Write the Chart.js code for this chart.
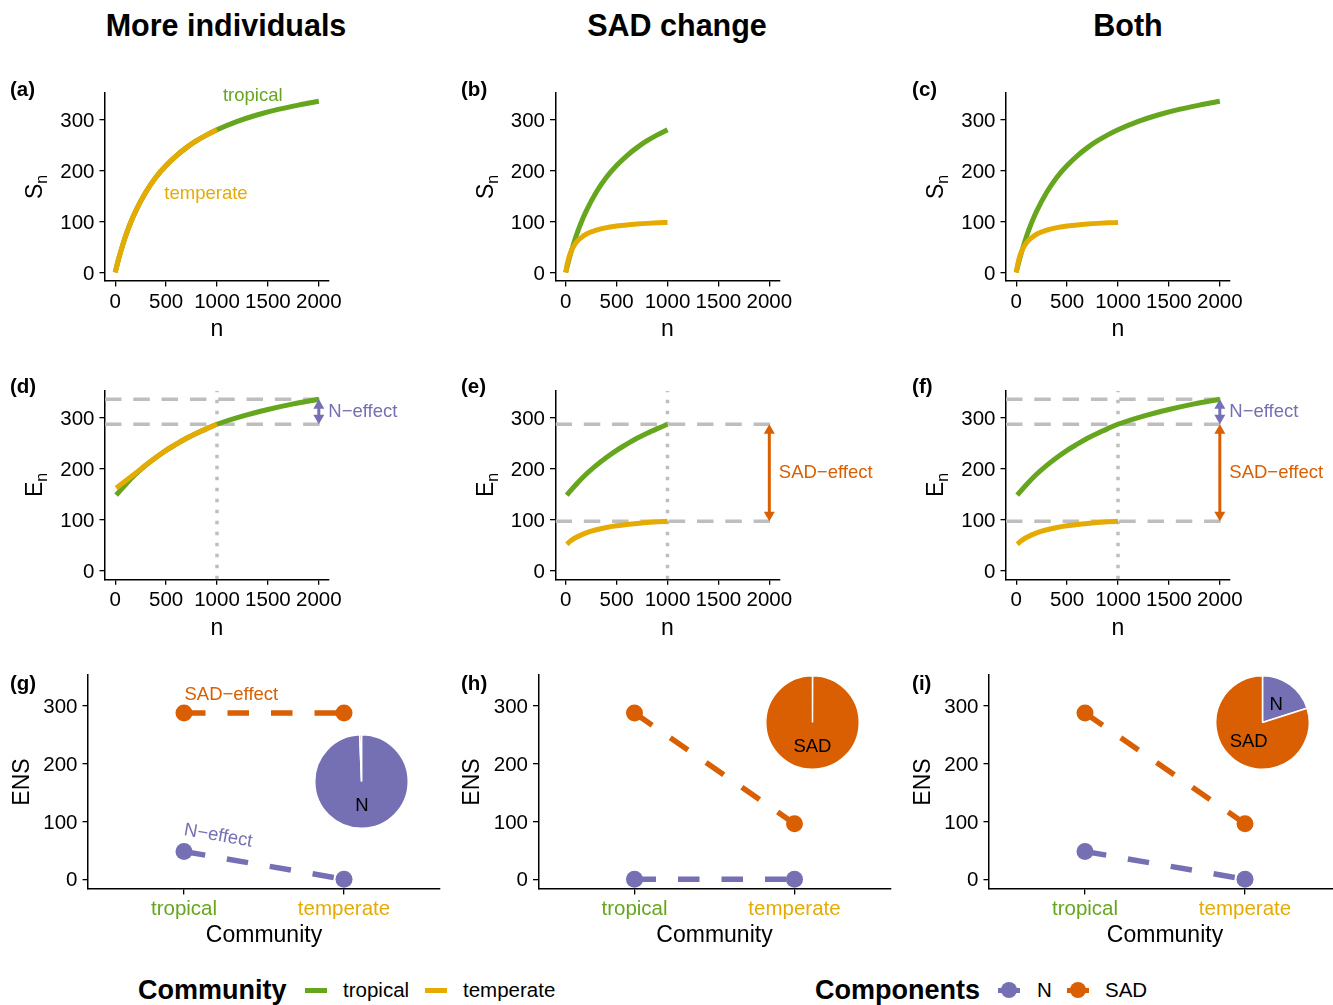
<!DOCTYPE html>
<html><head><meta charset="utf-8">
<script src="https://cdn.jsdelivr.net/npm/chart.js@4.4.1/dist/chart.umd.min.js"></script>
<style>
html,body{margin:0;padding:0;background:#fff;overflow:hidden;width:1333px;height:1005px;position:relative;}
canvas{position:absolute;}
.t{position:absolute;font-family:"Liberation Sans",Arial,Helvetica,sans-serif;color:#000;white-space:nowrap;}
.key{position:absolute;}
</style></head><body>
<div class="t" style="left:0;width:452px;top:5px;height:40px;line-height:40px;text-align:center;font-weight:bold;font-size:30.5px;">More individuals</div>
<div class="t" style="left:451px;width:452px;top:5px;height:40px;line-height:40px;text-align:center;font-weight:bold;font-size:30.5px;">SAD change</div>
<div class="t" style="left:902px;width:452px;top:5px;height:40px;line-height:40px;text-align:center;font-weight:bold;font-size:30.5px;">Both</div>

<div class="t" style="left:138px;top:970px;height:40px;line-height:40px;font-weight:bold;font-size:27px;">Community</div>
<div class="key" style="left:305px;top:987.5px;width:22px;height:5px;background:#66a61e"></div>
<div class="t" style="left:343px;top:970px;height:40px;line-height:40px;font-size:20.5px;">tropical</div>
<div class="key" style="left:425px;top:987.5px;width:22px;height:5px;background:#e6ab02"></div>
<div class="t" style="left:463px;top:970px;height:40px;line-height:40px;font-size:20.5px;">temperate</div>

<div class="t" style="left:815px;top:970px;height:40px;line-height:40px;font-weight:bold;font-size:27px;">Components</div>
<div class="key" style="left:998px;top:987.5px;width:22px;height:5px;background:#7570b3"></div>
<div class="key" style="left:1001px;top:982px;width:16px;height:16px;border-radius:50%;background:#7570b3"></div>
<div class="t" style="left:1037px;top:970px;height:40px;line-height:40px;font-size:20.5px;">N</div>
<div class="key" style="left:1067px;top:987.5px;width:22px;height:5px;background:#d95f02"></div>
<div class="key" style="left:1070px;top:982px;width:16px;height:16px;border-radius:50%;background:#d95f02"></div>
<div class="t" style="left:1105px;top:970px;height:40px;line-height:40px;font-size:20.5px;">SAD</div>

<script>
// ---------------- data ----------------
const nTicks = [0, 500, 1000, 1500, 2000];
const nTickLabels = ['0', '500', '1000', '1500', '2000'];
const yTicks = [0, 100, 200, 300];
const yTickLabels = ['0', '100', '200', '300'];
const communities = ['tropical', 'temperate'];
const components = ['N', 'SAD'];

// rarefaction S_n, tropical community
const nS_trop = [0, 25, 50, 100, 150, 200, 300, 400, 500, 600, 700, 800, 900, 1000, 1200, 1400, 1600, 1800, 2000];
const S_trop  = [0, 20, 38, 70, 97, 120, 157.5, 187, 210, 229, 245, 258.5, 270, 280, 296.5, 309.5, 320, 328.5, 336];
// rarefaction S_n, temperate community with changed SAD
const nS_temp = [0, 25, 50, 100, 150, 200, 300, 400, 500, 600, 700, 800, 900, 1000];
const S_temp  = [0, 24.5, 40, 58, 68, 75, 83, 88, 91, 93.3, 95, 96.3, 97.3, 98];

// E_n curves
const nE_trop = [10, 100, 200, 300, 400, 500, 600, 700, 800, 900, 1000, 1250, 1500, 1750, 2000];
const E_trop  = [148, 168.5, 189, 206.5, 222, 236, 248, 259.5, 269.5, 278.5, 287, 303, 316, 327, 336];
const nE_tempN = [10, 100, 200, 300, 400, 500, 600, 700, 800, 900, 1000];
const E_tempN  = [162, 176, 191, 207, 222, 236, 248, 259.5, 269.5, 278.5, 287];
const nE_tempSAD = [10, 50, 100, 200, 300, 400, 500, 600, 700, 800, 900, 1000];
const E_tempSAD  = [52, 58.6, 65, 74.2, 80.3, 84.7, 88, 90.6, 92.7, 94.4, 95.8, 97];

// reference levels
const E_trop_2000 = 336, E_trop_1000 = 287, E_tempSAD_1000 = 97;

// ENS of the components (tropical, temperate)
const ensN_g   = [48, 0],  ensSAD_g = [287, 287];
const ensN_h   = [0, 0],   ensSAD_h = [287, 96];
const ensN_i   = [48, 0],  ensSAD_i = [287, 96];
// pie shares [N, SAD]
const pie_g = [48, 0.3];
const pie_h = [0.1, 191];
const pie_i = [48, 191];

// ---------------- styling / layout ----------------
const FONT = '"Liberation Sans", Arial, Helvetica, sans-serif';
const GREEN = '#66a61e', YELLOW = '#e6ab02', PURPLE = '#7570b3', ORANGE = '#d95f02', GREY = '#bebebe';
const CW = 1360, CH = 1005;
const colOff = [0, 450.5, 901];
const rows = [
  {L: 105, R: 329, T: 92.7, B: 281},
  {L: 105, R: 329, T: 390.7, B: 579.3},
  {L: 88, R: 440, T: 675, B: 889}
];
const YW = 60, XH = 40;
const X_MIN = -100, X_MAX = 2100, Y_MIN = -16.8, Y_MAX = 352.8;
const TICK_FS = 20.5, TITLE_FS = 23, ANN_FS = 18.5;

const xy = (xs, ys) => xs.map((x, i) => ({x: x, y: ys[i]}));
const upTo = (pts, m) => pts.filter(p => p.x <= m);

const curve = (pts, color, order) => ({data: pts, borderColor: color, borderWidth: 5, pointRadius: 0,
  cubicInterpolationMode: 'monotone', fill: false, order: order, borderCapStyle: 'butt'});
const hline = v => ({data: [{x: X_MIN, y: v}, {x: X_MAX, y: v}], borderColor: GREY, borderWidth: 3.5,
  borderDash: [16.5, 11.8], pointRadius: 0, tension: 0, order: 10});
const vline = v => ({data: [{x: v, y: Y_MIN}, {x: v, y: Y_MAX}], borderColor: GREY, borderWidth: 3.5,
  borderDash: [3.5, 7.5], pointRadius: 0, tension: 0, order: 11});
const ensLine = (vals, color) => ({data: vals.map((v, i) => ({x: i, y: v})), borderColor: color, borderWidth: 5.5,
  borderDash: [21.5, 22], pointRadius: 8.5, pointBackgroundColor: color, pointBorderWidth: 0, tension: 0, order: 1});

function drawArrow(ctx, x, yA, yB, color) {
  const head = 9.5, hw = 5.5;
  const top = Math.min(yA, yB), bot = Math.max(yA, yB);
  ctx.strokeStyle = color; ctx.fillStyle = color; ctx.lineWidth = 3;
  ctx.beginPath(); ctx.moveTo(x, top + head - 1); ctx.lineTo(x, bot - head + 1); ctx.stroke();
  ctx.beginPath(); ctx.moveTo(x, top); ctx.lineTo(x - hw, top + head); ctx.lineTo(x + hw, top + head); ctx.closePath(); ctx.fill();
  ctx.beginPath(); ctx.moveTo(x, bot); ctx.lineTo(x - hw, bot - head); ctx.lineTo(x + hw, bot - head); ctx.closePath(); ctx.fill();
}

const decor = {
  id: 'decor',
  afterDatasetsDraw(chart, args, o) {
    const ctx = chart.ctx, xs = chart.scales.x, ys = chart.scales.y;
    ctx.save();
    (o.arrows || []).forEach(a => {
      const x = xs.getPixelForValue(a.x), y1 = ys.getPixelForValue(a.from), y2 = ys.getPixelForValue(a.to);
      drawArrow(ctx, x, y1, y2, a.color);
      ctx.fillStyle = a.color; ctx.font = ANN_FS + 'px ' + FONT; ctx.textAlign = 'left'; ctx.textBaseline = 'middle';
      ctx.fillText(a.label, x + 9.5, (y1 + y2) / 2);
    });
    (o.texts || []).forEach(t => {
      const x = xs.getPixelForValue(t.x), y = ys.getPixelForValue(t.y);
      ctx.save(); ctx.translate(x, y);
      if (t.along) {
        const v = t.along;
        const ang = Math.atan2(ys.getPixelForValue(v[1]) - ys.getPixelForValue(v[0]), xs.getPixelForValue(1) - xs.getPixelForValue(0));
        ctx.rotate(ang);
      }
      ctx.fillStyle = t.color; ctx.font = ANN_FS + 'px ' + FONT; ctx.textAlign = 'center'; ctx.textBaseline = 'middle';
      ctx.fillText(t.text, 0, 0);
      ctx.restore();
    });
    ctx.restore();
  },
  afterDraw(chart, args, o) {
    const ctx = chart.ctx, ca = chart.chartArea;
    ctx.save();
    ctx.fillStyle = '#000';
    // panel letter
    ctx.font = 'bold 20.5px ' + FONT; ctx.textAlign = 'left'; ctx.textBaseline = 'middle';
    ctx.fillText(o.letter, o.letterX, o.letterY);
    // x title
    ctx.font = TITLE_FS + 'px ' + FONT; ctx.textAlign = 'center';
    ctx.fillText(o.xTitle, (ca.left + ca.right) / 2, ca.bottom + o.xTitleOff);
    // y title (rotated, optional subscript)
    ctx.translate(ca.left - o.yTitleOff, (ca.top + ca.bottom) / 2);
    ctx.rotate(-Math.PI / 2);
    ctx.textAlign = 'left';
    ctx.font = TITLE_FS + 'px ' + FONT;
    const w1 = ctx.measureText(o.yTitle).width;
    let w2 = 0;
    if (o.ySub) { ctx.font = '16px ' + FONT; w2 = ctx.measureText(o.ySub).width; }
    const x0 = -(w1 + w2) / 2;
    ctx.font = TITLE_FS + 'px ' + FONT; ctx.fillText(o.yTitle, x0, 0);
    if (o.ySub) { ctx.font = '16px ' + FONT; ctx.fillText(o.ySub, x0 + w1, 7); }
    ctx.restore();
  }
};

function makeCanvas(left, top, w, h) {
  const cv = document.createElement('canvas');
  cv.width = w; cv.height = h;
  cv.style.left = left + 'px'; cv.style.top = top + 'px';
  document.body.appendChild(cv);
  return cv;
}

function panel(p) {
  const r = rows[p.row], off = colOff[p.col];
  const L = r.L + off, R = r.R + off, T = r.T, B = r.B;
  const cat = p.row === 2;
  const cv = makeCanvas(0, 0, CW, CH);
  new Chart(cv, {
    type: 'line',
    data: {datasets: p.datasets},
    options: {
      responsive: false, animation: false, events: [],
      layout: {padding: {left: L - YW, top: T, right: CW - R, bottom: CH - B - XH}},
      plugins: {legend: {display: false}, tooltip: {enabled: false},
        decor: {arrows: p.arrows, texts: p.texts, letter: p.letter, letterX: 10 + off * 1.0012, letterY: p.letterY,
          xTitle: cat ? 'Community' : 'n', xTitleOff: cat ? 47 : 49,
          yTitle: ['S', 'E', 'ENS'][p.row], ySub: ['n', 'n', ''][p.row], yTitleOff: cat ? 65.5 : 69}},
      scales: {
        x: {type: 'linear', min: cat ? -0.6 : X_MIN, max: cat ? 1.6 : X_MAX,
          afterFit: s => { s.height = XH; },
          afterBuildTicks: s => { s.ticks = (cat ? [0, 1] : nTicks).map(v => ({value: v})); },
          ticks: {font: {family: FONT, size: cat ? 20.5 : TICK_FS}, padding: cat ? 2.5 : 3.5, maxRotation: 0, autoSkip: false,
            color: cat ? (c => [GREEN, YELLOW][c.index]) : '#000',
            callback: (v, i) => cat ? communities[i] : nTickLabels[i]},
          grid: {display: true, drawOnChartArea: false, drawTicks: true, tickLength: 5.5, color: '#000', lineWidth: 1.3},
          border: {display: true, color: '#000', width: 1.5}},
        y: {type: 'linear', min: Y_MIN, max: Y_MAX,
          afterFit: s => { s.width = YW; },
          afterBuildTicks: s => { s.ticks = yTicks.map(v => ({value: v})); },
          ticks: {font: {family: FONT, size: TICK_FS}, padding: 5, labelOffset: 1.5, color: '#000', callback: (v, i) => yTickLabels[i]},
          grid: {display: true, drawOnChartArea: false, drawTicks: true, tickLength: 5.5, color: '#000', lineWidth: 1.3},
          border: {display: true, color: '#000', width: 1.5}}
      }
    },
    plugins: [decor]
  });
}

const pieLabels = {
  id: 'pieLabels',
  afterDatasetsDraw(chart) {
    const ctx = chart.ctx, meta = chart.getDatasetMeta(0);
    const data = chart.data.datasets[0].data, tot = data.reduce((a, b) => a + b, 0);
    ctx.save(); ctx.fillStyle = '#000'; ctx.font = ANN_FS + 'px ' + FONT; ctx.textAlign = 'center'; ctx.textBaseline = 'middle';
    meta.data.forEach((arc, i) => {
      if (data[i] / tot < 0.05) return;
      const a = (arc.startAngle + arc.endAngle) / 2, rr = arc.outerRadius / 2;
      ctx.fillText(chart.data.labels[i], arc.x + rr * Math.cos(a), arc.y + rr * Math.sin(a) + 1);
    });
    ctx.restore();
  }
};

function pie(cx, cy, vals) {
  const size = 95;
  const cv = makeCanvas(cx - size / 2, cy - size / 2, size, size);
  new Chart(cv, {
    type: 'pie',
    data: {labels: components, datasets: [{data: vals, backgroundColor: [PURPLE, ORANGE], borderColor: '#fff',
      borderWidth: 1.5, hoverOffset: 0, offset: 0}]},
    options: {responsive: false, animation: false, events: [], layout: {padding: 0},
      plugins: {legend: {display: false}, tooltip: {enabled: false}}},
    plugins: [pieLabels]
  });
}

// ---------------- build ----------------
const S_trop_pts = xy(nS_trop, S_trop), S_temp_pts = xy(nS_temp, S_temp);
const E_trop_pts = xy(nE_trop, E_trop), E_tempN_pts = xy(nE_tempN, E_tempN), E_tempSAD_pts = xy(nE_tempSAD, E_tempSAD);
const arrowN = {x: 2000, from: E_trop_1000, to: E_trop_2000, color: PURPLE, label: 'N−effect'};
const arrowSAD = {x: 2000, from: E_tempSAD_1000, to: E_trop_1000, color: ORANGE, label: 'SAD−effect'};

panel({row: 0, col: 0, letter: '(a)', letterY: 90,
  datasets: [curve(upTo(S_trop_pts, 1000), YELLOW, 0), curve(S_trop_pts, GREEN, 1)],
  texts: [{text: 'tropical', x: 1351, y: 347, color: GREEN}, {text: 'temperate', x: 892, y: 155, color: YELLOW}]});
panel({row: 0, col: 1, letter: '(b)', letterY: 90,
  datasets: [curve(S_temp_pts, YELLOW, 0), curve(upTo(S_trop_pts, 1000), GREEN, 1)]});
panel({row: 0, col: 2, letter: '(c)', letterY: 90,
  datasets: [curve(S_temp_pts, YELLOW, 0), curve(S_trop_pts, GREEN, 1)]});

panel({row: 1, col: 0, letter: '(d)', letterY: 387,
  datasets: [curve(E_tempN_pts, YELLOW, 0), curve(E_trop_pts, GREEN, 1), hline(E_trop_2000), hline(E_trop_1000), vline(1000)],
  arrows: [arrowN]});
panel({row: 1, col: 1, letter: '(e)', letterY: 387,
  datasets: [curve(E_tempSAD_pts, YELLOW, 0), curve(upTo(E_trop_pts, 1000), GREEN, 1), hline(E_trop_1000), hline(E_tempSAD_1000), vline(1000)],
  arrows: [arrowSAD]});
panel({row: 1, col: 2, letter: '(f)', letterY: 387,
  datasets: [curve(E_tempSAD_pts, YELLOW, 0), curve(E_trop_pts, GREEN, 1), hline(E_trop_2000), hline(E_trop_1000), hline(E_tempSAD_1000), vline(1000)],
  arrows: [arrowN, arrowSAD]});

panel({row: 2, col: 0, letter: '(g)', letterY: 684,
  datasets: [ensLine(ensSAD_g, ORANGE), ensLine(ensN_g, PURPLE)],
  texts: [{text: 'SAD−effect', x: 0.296, y: 318, color: ORANGE}, {text: 'N−effect', x: 0.214, y: 75, color: PURPLE, along: ensN_g}]});
panel({row: 2, col: 1, letter: '(h)', letterY: 684,
  datasets: [ensLine(ensSAD_h, ORANGE), ensLine(ensN_h, PURPLE)]});
panel({row: 2, col: 2, letter: '(i)', letterY: 684,
  datasets: [ensLine(ensSAD_i, ORANGE), ensLine(ensN_i, PURPLE)]});

pie(361.7, 781.7, pie_g);
pie(812.3, 722.3, pie_h);
pie(1262.7, 722.3, pie_i);
</script>
</body></html>
